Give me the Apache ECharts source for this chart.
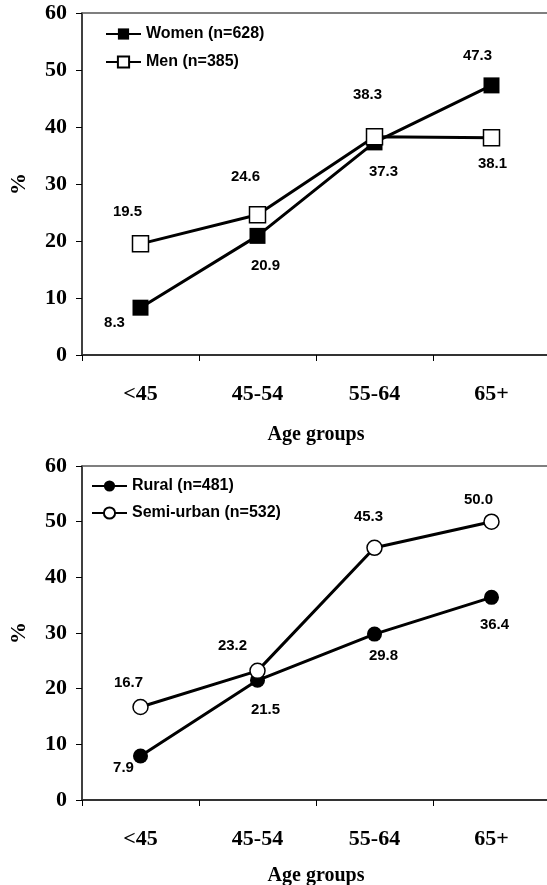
<!DOCTYPE html>
<html><head><meta charset="utf-8">
<script src="https://cdn.jsdelivr.net/npm/echarts@6.0.0/dist/echarts.min.js"></script>
<style>html,body{margin:0;padding:0;background:#fff}#c{width:547px;height:885px}</style>
</head><body><div id="c"></div>
<script>
// ---- data ----
const categories = ['<45', '45-54', '55-64', '65+'];
const women = [8.3, 20.9, 37.3, 47.3];
const men = [19.5, 24.6, 38.3, 38.1];
const rural = [7.9, 21.5, 29.8, 36.4];
const semiUrban = [16.7, 23.2, 45.3, 50.0];
const namesTop = ['Women (n=628)', 'Men (n=385)'];
const namesBottom = ['Rural (n=481)', 'Semi-urban (n=532)'];
const yTickValues = [0, 10, 20, 30, 40, 50, 60];
const xAxisTitle = 'Age groups';
const yAxisTitle = '%';

// ---- style: label offsets (relative to marker centre) ----
const offWomen = [[-26, 15], [8, 30], [9, 29], [-14, -30]];
const offMen = [[-13, -32], [-12, -38], [-7, -42], [1, 26]];
const offRural = [[-17, 12], [8, 30], [9, 22], [3, 27]];
const offSemi = [[-12, -24], [-25, -25], [-6, -31], [-13, -22]];

const SERIF = '"Liberation Serif","Times New Roman",serif';
const SANS = '"Liberation Sans",Arial,sans-serif';

const chart = echarts.init(document.getElementById('c'), null, {renderer: 'canvas'});

function xAxes(gi, nameGap) {
  return [{
    type: 'category', gridIndex: gi, data: categories, boundaryGap: true,
    axisLine: {show: true, lineStyle: {color: '#333', width: 2}},
    axisTick: {show: true, alignWithLabel: false, length: 6, inside: false, lineStyle: {color: '#000', width: 1}},
    axisLabel: {color: '#000', fontFamily: SERIF, fontWeight: 'bold', fontSize: 22, margin: 28},
    name: xAxisTitle, nameLocation: 'middle', nameGap: nameGap,
    nameTextStyle: {color: '#000', fontFamily: SERIF, fontWeight: 'bold', fontSize: 20},
    splitLine: {show: false}
  }, {
    type: 'category', gridIndex: gi, data: categories, position: 'top',
    axisLine: {show: true, lineStyle: {color: '#555', width: 1.5}},
    axisTick: {show: false}, axisLabel: {show: false}, splitLine: {show: false}
  }];
}
function yAxis(gi) {
  return {
    type: 'value', gridIndex: gi, min: yTickValues[0], max: yTickValues[yTickValues.length - 1],
    interval: yTickValues[1] - yTickValues[0],
    axisLine: {show: true, lineStyle: {color: '#000', width: 1.5}},
    axisTick: {show: true, length: 6, lineStyle: {color: '#000', width: 1}},
    axisLabel: {color: '#000', fontFamily: SERIF, fontWeight: 'bold', fontSize: 22, margin: 15},
    splitLine: {show: false},
    name: yAxisTitle, nameLocation: 'middle', nameGap: 52, nameRotate: 90,
    nameTextStyle: {color: '#000', fontFamily: SERIF, fontWeight: 'bold', fontSize: 22}
  };
}
function makeSeries(name, values, offsets, gi, symbol, filled) {
  return {
    name: name, type: 'line', xAxisIndex: gi * 2, yAxisIndex: gi,
    data: values.map((v, i) => ({
      value: v,
      label: {offset: offsets[i]}
    })),
    symbol: symbol, symbolSize: symbol === 'rect' ? 16 : 15,
    lineStyle: {color: '#000', width: 3},
    itemStyle: {color: filled ? '#000' : '#fff', borderColor: '#000', borderWidth: filled ? 0 : 1.5},
    label: {
      show: true, position: 'inside', color: '#000',
      fontFamily: SANS, fontWeight: 'bold', fontSize: 15,
      formatter: p => Number(p.value).toFixed(1)
    },
    emphasis: {disabled: true},
    animation: false
  };
}
const legendText = {color: '#000', fontFamily: SANS, fontWeight: 'bold', fontSize: 16, lineHeight: 16};

chart.setOption({
  backgroundColor: '#fff',
  animation: false,
  grid: [
    {left: 82, top: 13, width: 468, height: 342, outerBoundsMode: 'none', containLabel: false},
    {left: 82, top: 466, width: 468, height: 334, outerBoundsMode: 'none', containLabel: false}
  ],
  legend: [
    {data: namesTop, left: 100, top: 21, orient: 'vertical', itemWidth: 35, itemHeight: 14,
     itemGap: 12, textStyle: legendText, selectedMode: false},
    {data: namesBottom, left: 86, top: 473, orient: 'vertical', itemWidth: 35, itemHeight: 14,
     itemGap: 11, textStyle: legendText, selectedMode: false}
  ],
  xAxis: [...xAxes(0, 70), ...xAxes(1, 66)],
  yAxis: [yAxis(0), yAxis(1)],
  series: [
    makeSeries(namesTop[0], women, offWomen, 0, 'rect', true),
    makeSeries(namesTop[1], men, offMen, 0, 'rect', false),
    makeSeries(namesBottom[0], rural, offRural, 1, 'circle', true),
    makeSeries(namesBottom[1], semiUrban, offSemi, 1, 'circle', false)
  ]
});
</script>
</body></html>
